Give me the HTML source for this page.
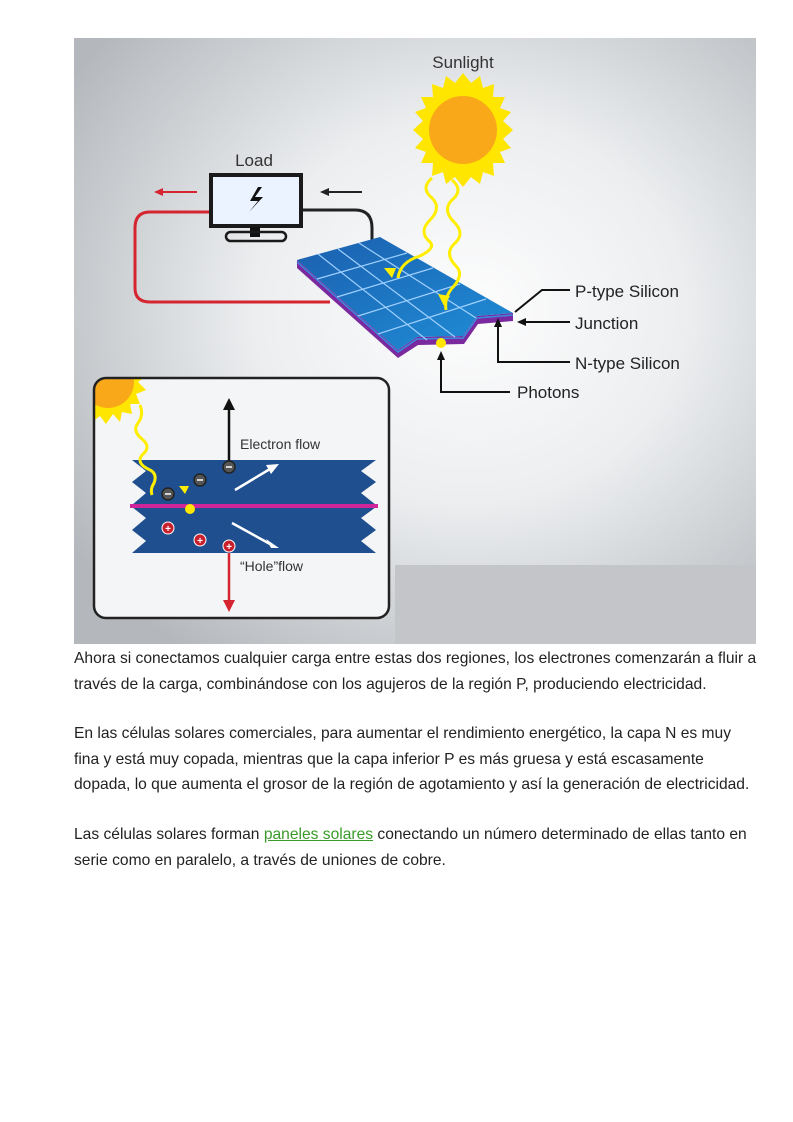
<!DOCTYPE html>
<html><head><meta charset="utf-8"><style>
body{margin:0;background:#fff;width:793px;height:1122px;position:relative;overflow:hidden;font-family:"Liberation Sans",sans-serif}
svg{position:absolute;left:74px;top:38px}
.p{position:absolute;left:74px;width:686px;font-size:15.6px;line-height:25.5px;color:#222}
a{color:#3a9a2a;text-decoration:underline}
</style></head><body>
<svg width="682" height="606" viewBox="74 38 682 606" font-family="Liberation Sans, sans-serif">
<defs>
<radialGradient id="bg" cx="0.58" cy="0.45" r="0.7">
<stop offset="0" stop-color="#fdfdfd"/><stop offset="0.45" stop-color="#eceef0"/><stop offset="1" stop-color="#b4b8bc"/></radialGradient>
<linearGradient id="pan" x1="0" y1="0" x2="1" y2="1"><stop offset="0" stop-color="#1b5fae"/><stop offset="1" stop-color="#1f8fd8"/></linearGradient>
<clipPath id="ic"><rect x="94" y="378" width="295" height="240" rx="12"/></clipPath>
</defs>
<rect x="74" y="38" width="682" height="606" fill="url(#bg)"/>
<rect x="395" y="565" width="361" height="79" fill="#c3c5c8"/>
<g transform="translate(463,130)">
<polygon fill="#ffe600" points="0,-57 8,-47 17,-54 20,-42 31,-46 30,-33 42,-33 37,-22 48,-18 40,-9 50,0 40,9 48,18 37,22 42,33 30,33 31,46 20,42 17,54 8,47 0,57 -8,47 -17,54 -20,42 -31,46 -30,33 -42,33 -37,22 -48,18 -40,9 -50,0 -40,-9 -48,-18 -37,-22 -42,-33 -30,-33 -31,-46 -20,-42 -17,-54 -8,-47"/>
<circle r="34" fill="#f9a81a"/>
</g>
<text x="463" y="68" font-size="17" text-anchor="middle" fill="#333">Sunlight</text>
<text x="254" y="166" font-size="17" text-anchor="middle" fill="#333">Load</text>
<path d="M209,212 H150 Q135,212 135,228 V288 Q135,302 150,302 H330" fill="none" stroke="#d42530" stroke-width="3"/>
<path d="M302,210 H355 Q372,210 372,228 V248" fill="none" stroke="#222" stroke-width="3"/>
<rect x="211" y="175" width="90" height="51" fill="#eaf3ff" stroke="#1a1a1a" stroke-width="4"/>
<path d="M258,187 L250,201 H258 L249,212 L263,197 H255 L262,187Z" fill="#111"/>
<rect x="250" y="227" width="10" height="10" fill="#111"/>
<rect x="226" y="232" width="60" height="9" rx="4.5" fill="none" stroke="#1a1a1a" stroke-width="2.5"/>
<line x1="160" y1="192" x2="197" y2="192" stroke="#d42530" stroke-width="2"/><polygon points="154,192 163,188 163,196" fill="#d42530"/>
<line x1="326" y1="192" x2="362" y2="192" stroke="#222" stroke-width="2"/><polygon points="320,192 329,188 329,196" fill="#222"/>
<!-- panel -->
<polygon points="297,260 398,350 417,337 463,336 477,316 513,313 513,321 478,324 464,344 418,345 398,358 297,268" fill="#7a2a9e"/>
<polyline points="297,262 398,352 417,339 463,338 477,318 513,315" fill="none" stroke="#3a8ae0" stroke-width="1.5"/>
<polygon points="297,260 380,237 513,313 477,316 463,336 417,337 398,350" fill="url(#pan)"/>
<g stroke="#9fd0ff" stroke-width="1.2" fill="none">
<line x1="317" y1="279" x2="407" y2="253"/><line x1="337" y1="297" x2="433" y2="268"/><line x1="358" y1="316" x2="460" y2="284"/><line x1="378" y1="334" x2="486" y2="299"/>
<line x1="318" y1="254" x2="427" y2="340"/><line x1="338" y1="249" x2="455" y2="337"/><line x1="359" y1="243" x2="476" y2="318"/>
</g>
<path d="M432,178 q-12,10 0,20 q10,10 -2,22 q-12,12 0,22 q6,6 -10,14 q-20,6 -22,22" fill="none" stroke="#ffee00" stroke-width="3"/>
<path d="M452,180 q12,10 0,20 q-10,10 2,22 q12,12 0,22 q-10,10 2,22 q8,8 -2,20 q-10,10 -8,24" fill="none" stroke="#ffee00" stroke-width="3"/>
<polygon points="392,278 384,268 396,268" fill="#ffee00"/><polygon points="444,306 438,294 450,296" fill="#ffee00"/>
<circle cx="441" cy="343" r="5" fill="#ffe600"/>
<g stroke="#111" stroke-width="2" fill="none">
<polyline points="515,312 542,290 570,290"/>
<line x1="524" y1="322" x2="570" y2="322"/>
<polyline points="498,324 498,362 570,362"/>
<polyline points="441,358 441,392 510,392"/>
</g>
<polygon points="517,322 526,318 526,326" fill="#111"/>
<polygon points="498,318 494,327 502,327" fill="#111"/>
<polygon points="441,351 437,360 445,360" fill="#111"/>
<g font-size="17" fill="#222">
<text x="575" y="297">P-type  Silicon</text><text x="575" y="329">Junction</text>
<text x="575" y="369">N-type  Silicon</text><text x="517" y="398">Photons</text></g>
<rect x="94" y="378" width="295" height="240" rx="12" fill="#f4f5f6"/>
<g clip-path="url(#ic)">
<g transform="translate(108,382)"><polygon fill="#ffe600" points="0,-42 7,-34 14,-40 16,-30 26,-32 24,-22 34,-20 28,-12 38,-6 30,0 38,8 28,12 32,22 22,22 24,32 14,30 12,40 5,32 -2,42 -8,34 -16,40 -18,30 -28,30 -26,20 -36,16 -30,8 -40,0"/><circle r="26" fill="#f9a81a"/></g>
</g>
<rect x="94" y="378" width="295" height="240" rx="12" fill="none" stroke="#222" stroke-width="2.5"/>
<polygon points="132,460 376,460 361,471 376,482 361,493 376,505 132,505 146,493 132,482 146,471" fill="#1f4f8f"/>
<polygon points="132,507 376,507 361,518 376,530 361,541 376,553 132,553 146,541 132,530 146,518" fill="#1f4f8f"/>
<rect x="130" y="504" width="248" height="4" fill="#d0259a"/>
<path d="M140,405 q4,10 -2,18 q-6,8 4,16 q10,8 0,16 q-6,8 6,14 q10,4 6,14 q-4,6 -2,12" fill="none" stroke="#ffee00" stroke-width="3"/>
<polygon points="185,494 179,486 189,486" fill="#ffee00"/><circle cx="190" cy="509" r="5" fill="#ffe600"/>
<line x1="229" y1="465" x2="229" y2="408" stroke="#111" stroke-width="2.5"/><polygon points="229,398 223,410 235,410" fill="#111"/>
<line x1="229" y1="553" x2="229" y2="602" stroke="#d42530" stroke-width="2.5"/><polygon points="229,612 223,600 235,600" fill="#d42530"/>
<line x1="235" y1="490" x2="270" y2="469" stroke="#fff" stroke-width="2.5"/><polygon points="279,464 266,465 271,474" fill="#fff"/>
<line x1="232" y1="523" x2="270" y2="544" stroke="#fff" stroke-width="2.5"/><polygon points="279,548 266,539 271,548" fill="#fff"/>
<g fill="#555" stroke="#222" stroke-width="1.5"><circle cx="229" cy="467" r="6"/><circle cx="200" cy="480" r="6"/><circle cx="168" cy="494" r="6"/></g>
<g stroke="#fff" stroke-width="1.5"><line x1="226" y1="467" x2="232" y2="467"/><line x1="197" y1="480" x2="203" y2="480"/><line x1="165" y1="494" x2="171" y2="494"/></g>
<g fill="#c8202c" stroke="#fff" stroke-width="1"><circle cx="168" cy="528" r="6"/><circle cx="200" cy="540" r="6"/><circle cx="229" cy="546" r="6"/></g>
<g fill="#fff" font-size="10" font-weight="bold" text-anchor="middle"><text x="168" y="532">+</text><text x="200" y="544">+</text><text x="229" y="550">+</text></g>
<text x="240" y="449" font-size="14" fill="#333">Electron  flow</text>
<text x="240" y="571" font-size="14" fill="#333">“Hole”flow</text>
</svg>
<div class="p" style="top:646px">Ahora si conectamos cualquier carga entre estas dos regiones, los electrones comenzarán a fluir a través de la carga, combinándose con los agujeros de la región P, produciendo electricidad.</div>
<div class="p" style="top:721px">En las células solares comerciales, para aumentar el rendimiento energético, la capa N es muy<br>fina y está muy copada, mientras que la capa inferior P es más gruesa y está escasamente<br>dopada, lo que aumenta el grosor de la región de agotamiento y así la generación de electricidad.</div>
<div class="p" style="top:822px">Las células solares forman <a>paneles solares</a> conectando un número determinado de ellas tanto en serie como en paralelo, a través de uniones de cobre.</div>
</body></html>
